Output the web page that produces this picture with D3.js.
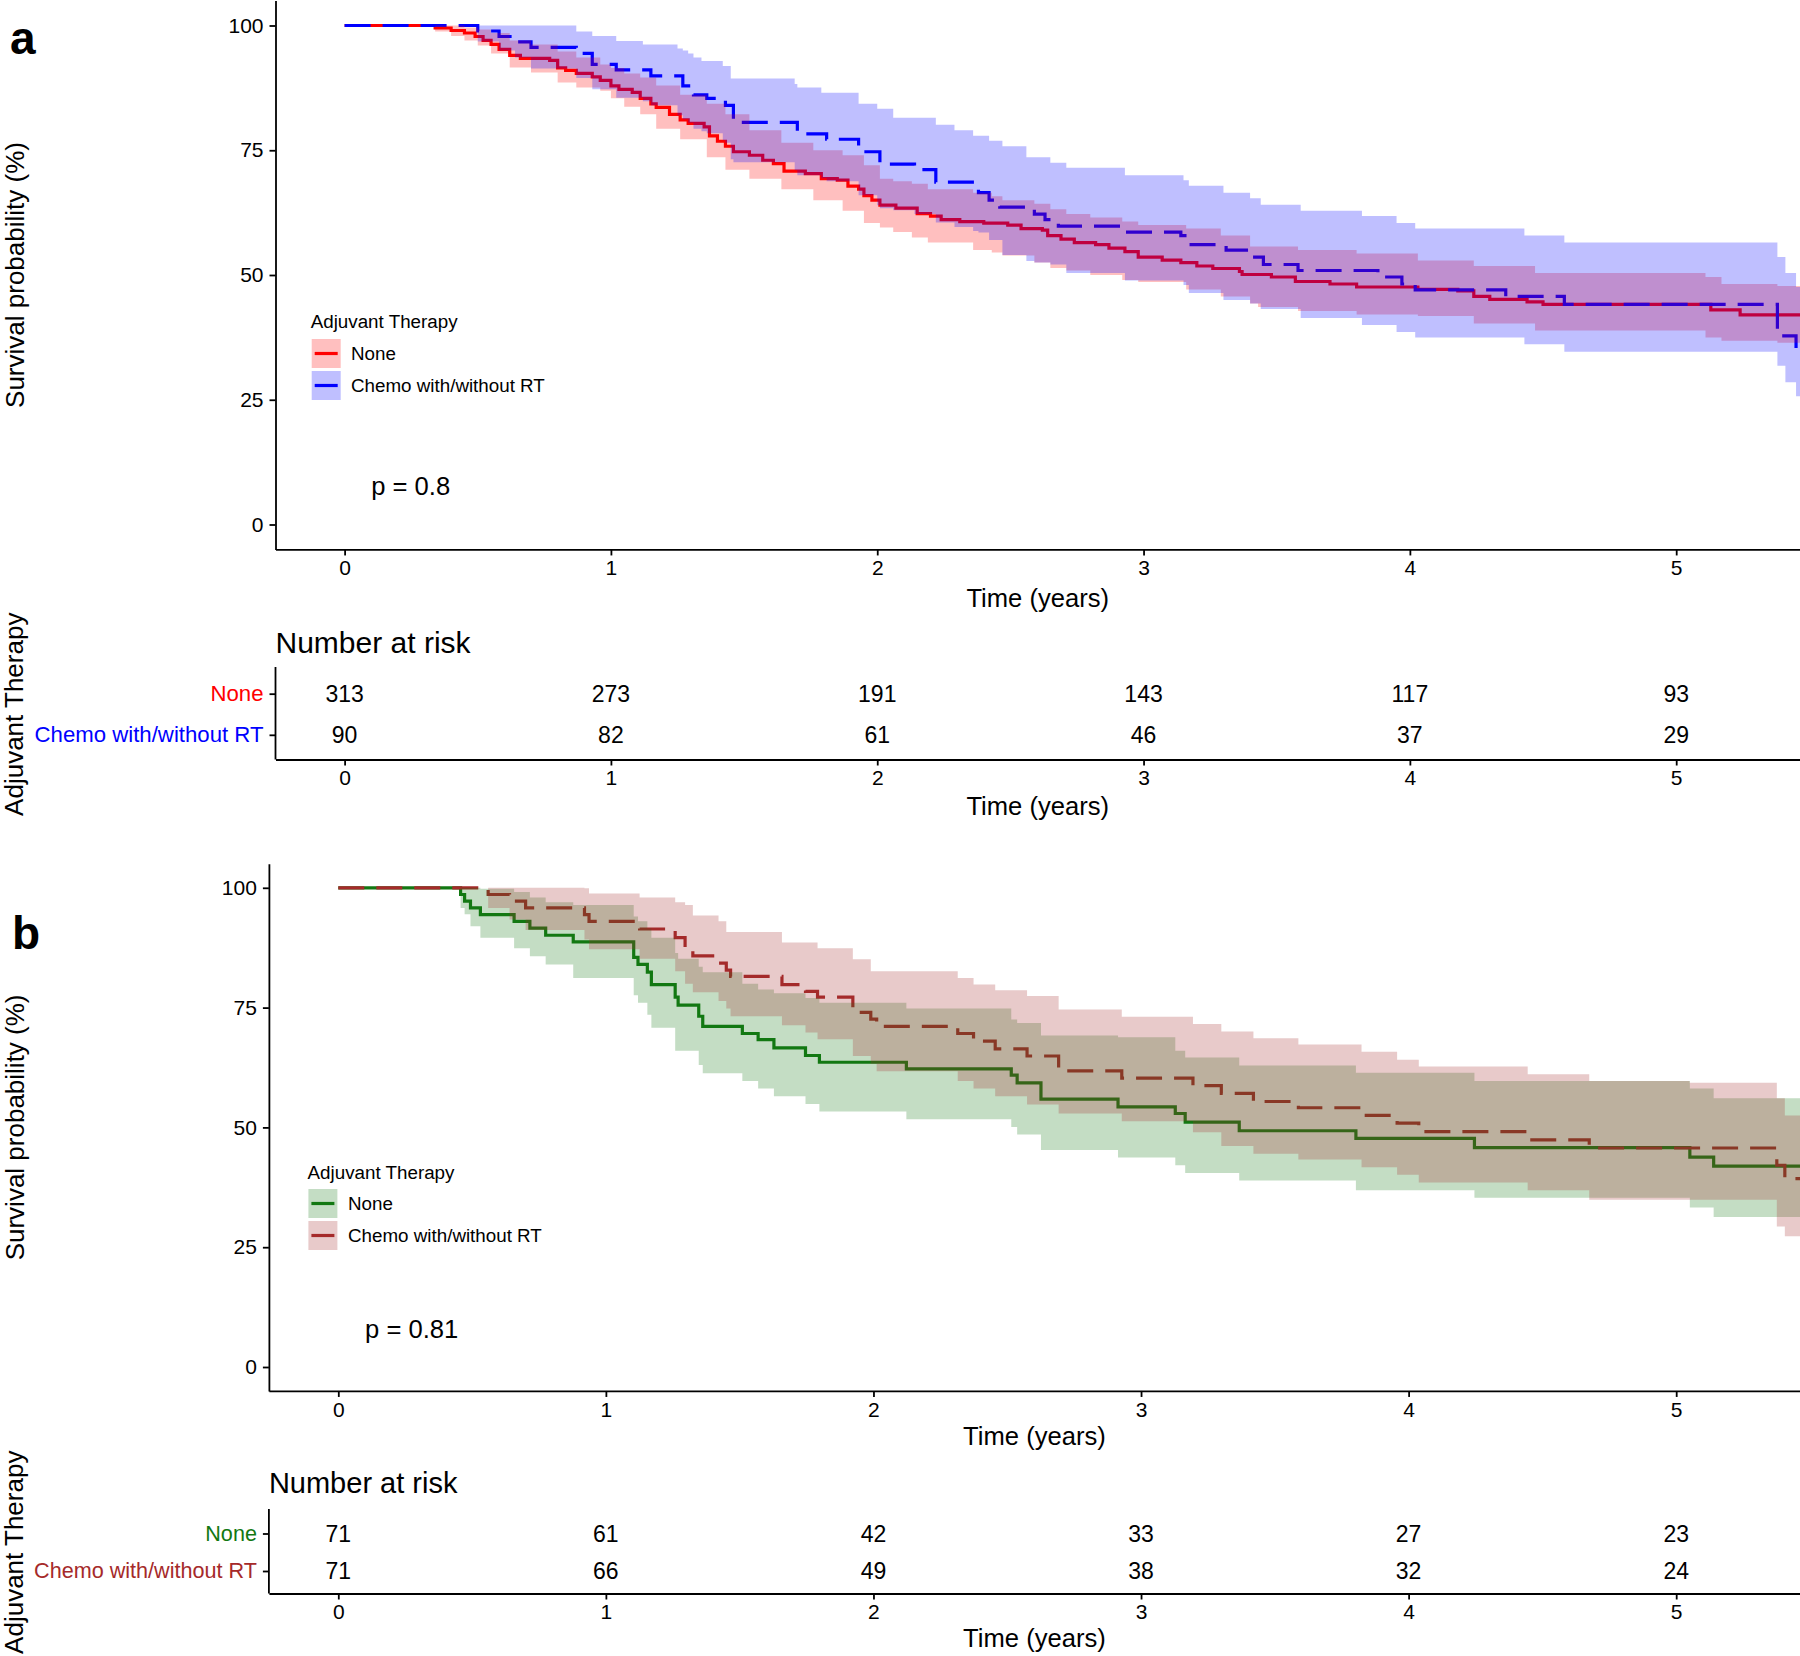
<!DOCTYPE html>
<html><head><meta charset="utf-8">
<script src="https://cdn.jsdelivr.net/npm/d3@7"></script>
<style>body{margin:0;background:#fff}svg{display:block}</style>
</head><body><script>
// ---------------- DATA ----------------
const timeTicks = [0, 1, 2, 3, 4, 5];
const survTicks = [0, 25, 50, 75, 100];
const groups = ["None", "Chemo with/without RT"];
const riskA_none  = [313, 273, 191, 143, 117, 93];
const riskA_chemo = [90, 82, 61, 46, 37, 29];
const riskB_none  = [71, 61, 42, 33, 27, 23];
const riskB_chemo = [71, 66, 49, 38, 32, 24];
const pvalA = "p = 0.8", pvalB = "p = 0.81";
const pvalCoord = [0.1, 6];

// Panel a, None: [time, survival %]
const aNoneSteps = [[0,100],[0.34,99.5],[0.40,99.0],[0.45,98.5],[0.49,97.8],[0.52,97.0],[0.55,96.2],[0.58,95.2],[0.62,94.0],[0.66,93.4],[0.77,93.0],[0.80,91.5],[0.83,91.0],[0.87,90.4],[0.93,89.7],[0.96,89.0],[1.00,87.9],[1.03,87.2],[1.08,86.6],[1.11,85.4],[1.15,84.3],[1.17,83.6],[1.22,82.2],[1.26,81.1],[1.29,80.4],[1.35,79.7],[1.37,77.9],[1.40,76.8],[1.43,75.8],[1.46,74.7],[1.52,74.0],[1.57,73.0],[1.61,72.3],[1.65,70.8],[1.73,70.3],[1.79,69.3],[1.85,69.0],[1.89,67.8],[1.93,67.2],[1.95,65.9],[1.98,65.0],[2.01,64.0],[2.07,63.4],[2.15,62.3],[2.20,61.8],[2.24,61.1],[2.31,60.7],[2.40,60.4],[2.49,60.0],[2.54,59.3],[2.62,59.0],[2.64,57.9],[2.69,57.2],[2.74,56.5],[2.82,56.1],[2.87,55.4],[2.93,54.7],[2.98,53.6],[3.07,53.0],[3.14,52.5],[3.20,51.8],[3.26,51.3],[3.36,50.7],[3.37,50.1],[3.48,49.6],[3.57,48.7],[3.70,48.2],[3.80,47.6],[4.03,47.1],[4.18,46.8],[4.24,45.7],[4.30,45.1],[4.44,44.6],[4.50,44.1],[5.13,43.0],[5.24,42.0]];
// [time, lower, upper]
const aNoneBand = [[0,100,100],[0.34,98.8,100],[0.40,97.9,100],[0.45,97.0,99.6],[0.50,96.0,99.2],[0.55,94.4,98.5],[0.62,91.6,97.0],[0.70,90.6,96.2],[0.80,88.6,94.8],[0.87,87.6,93.6],[0.96,86.9,92.2],[1.00,85.4,91.5],[1.05,83.7,90.4],[1.11,82.2,89.6],[1.17,79.3,88.0],[1.26,77.2,86.1],[1.36,73.6,84.3],[1.43,71.1,82.2],[1.52,69.3,79.0],[1.64,67.2,76.5],[1.76,65.0,75.0],[1.87,62.9,74.0],[1.95,60.4,72.0],[2.01,59.5,69.3],[2.06,58.6,68.8],[2.13,57.5,68.3],[2.19,56.5,67.2],[2.36,55.0,66.5],[2.43,54.5,65.8],[2.47,53.9,65.0],[2.59,52.5,64.3],[2.65,51.4,63.2],[2.71,50.9,62.2],[2.80,50.0,61.5],[2.92,49.0,60.7],[2.98,48.6,60.0],[3.16,47.1,59.3],[3.29,45.7,57.9],[3.40,44.3,55.7],[3.43,43.6,55.7],[3.58,42.8,55.0],[3.80,42.1,54.3],[4.03,41.8,52.9],[4.24,40.3,51.8],[4.47,38.9,50.4],[5.05,38.9,50.4],[5.11,37.5,49.6],[5.17,36.8,48.2],[5.38,36.4,47.8]];

// Panel a, Chemo
const aChemoSteps = [[0,100],[0.50,98.9],[0.58,97.8],[0.64,96.7],[0.70,95.6],[0.87,94.4],[0.93,92.2],[1.02,91.1],[1.15,89.9],[1.27,87.9],[1.31,86.1],[1.36,85.4],[1.43,84.0],[1.46,80.6],[1.70,78.3],[1.81,77.2],[1.93,74.7],[2.01,72.2],[2.14,71.1],[2.22,68.6],[2.38,66.5],[2.42,65.0],[2.46,63.6],[2.59,62.2],[2.63,61.1],[2.68,59.8],[2.92,58.6],[3.14,57.9],[3.17,56.1],[3.31,55.0],[3.40,53.6],[3.45,52.1],[3.58,50.9],[3.88,49.6],[3.97,48.2],[4.02,47.0],[4.36,45.7],[4.58,44.1],[5.38,37.8],[5.45,34.6]];
const aChemoBand = [[0,100,100],[0.50,96.8,100],[0.58,95.0,100],[0.64,93.6,100],[0.70,91.4,100],[0.87,89.5,98.8],[0.93,87.2,97.9],[1.02,85.5,96.9],[1.12,84.8,96.2],[1.15,84.0,96.2],[1.25,82.0,95.4],[1.27,81.2,95.0],[1.29,80.5,94.4],[1.31,79.3,93.6],[1.34,78.8,92.9],[1.36,78.4,92.9],[1.42,77.0,91.9],[1.43,76.5,91.9],[1.45,73.2,89.4],[1.46,72.6,89.4],[1.69,71.0,88.3],[1.70,70.0,87.6],[1.79,69.4,86.5],[1.81,68.8,86.5],[1.93,66.0,84.3],[2.00,64.0,83.3],[2.01,63.4,83.3],[2.06,63.0,81.5],[2.14,62.2,81.5],[2.22,60.5,80.1],[2.29,59.6,79.0],[2.36,58.8,77.9],[2.38,58.5,77.9],[2.42,57.0,76.9],[2.47,54.0,75.8],[2.56,52.8,73.6],[2.59,52.5,73.6],[2.65,52.1,72.5],[2.71,50.4,71.5],[2.93,48.9,70.0],[3.15,48.0,69.0],[3.17,46.4,67.9],[3.30,45.0,66.5],[3.40,44.3,65.4],[3.44,43.2,64.1],[3.59,41.4,62.9],[3.82,40.0,61.8],[3.95,38.6,60.4],[4.02,37.5,59.3],[4.43,36.1,57.9],[4.58,34.6,56.5],[5.38,31.8,53.6],[5.41,28.5,50.4],[5.45,25.7,47.6]];

// Panel b, None
const bNoneSteps = [[0,100],[0.457,98.6],[0.472,97.2],[0.494,95.8],[0.531,94.4],[0.657,93.0],[0.716,91.6],[0.775,90.1],[0.878,88.7],[1.104,85.5],[1.12,84.0],[1.155,82.4],[1.17,79.8],[1.259,77.2],[1.27,75.5],[1.347,73.2],[1.362,71.1],[1.51,69.6],[1.569,68.3],[1.628,66.6],[1.746,65.0],[1.798,63.6],[2.123,62.2],[2.515,60.9],[2.537,59.3],[2.626,55.9],[2.914,54.3],[3.128,52.9],[3.165,51.1],[3.367,49.3],[3.803,47.7],[4.246,45.8],[5.051,43.8],[5.14,41.9]];
const bNoneBand = [[0,100,100],[0.457,95.8,100],[0.472,94.5,100],[0.494,92.0,100],[0.531,89.6,99.8],[0.657,87.4,99.1],[0.716,85.7,98.0],[0.775,84.0,97.0],[0.878,81.2,96.4],[1.104,77.6,94.0],[1.12,76.0,93.0],[1.155,73.5,91.5],[1.17,70.8,89.6],[1.259,66.0,86.4],[1.27,66.0,85.2],[1.347,63.0,83.5],[1.362,61.3,82.4],[1.51,59.7,80.0],[1.569,58.1,78.8],[1.628,56.5,78.0],[1.746,54.9,77.0],[1.798,53.3,76.0],[2.123,51.7,74.8],[2.515,50.1,72.5],[2.537,48.5,71.8],[2.626,45.3,69.2],[2.914,43.7,68.8],[3.128,42.1,66.0],[3.165,40.5,64.6],[3.367,38.9,62.9],[3.803,36.9,61.4],[4.246,35.3,59.7],[5.051,33.3,58.1],[5.14,31.3,56.1]];

// Panel b, Chemo
const bChemoSteps = [[0,100],[0.56,98.6],[0.64,97.2],[0.70,95.8],[0.92,94.4],[0.937,93.0],[1.126,91.4],[1.259,89.6],[1.296,87.2],[1.325,85.8],[1.421,84.3],[1.45,82.8],[1.466,81.5],[1.658,79.8],[1.746,78.4],[1.791,77.2],[1.923,74.0],[1.99,72.6],[2.012,71.1],[2.315,69.6],[2.374,68.0],[2.455,66.4],[2.574,64.9],[2.692,61.8],[2.928,60.3],[3.194,58.7],[3.30,57.1],[3.42,55.4],[3.588,54.1],[3.824,52.5],[3.957,50.9],[4.038,49.1],[4.445,47.4],[4.675,45.7],[5.376,42.1],[5.406,39.3]];
const bChemoBand = [[0,100,100],[0.56,95.8,100],[0.64,93.4,100],[0.70,91.2,100],[0.92,89.2,99.9],[0.937,87.2,98.8],[1.126,85.2,98.0],[1.259,82.6,97.0],[1.296,80.0,96.4],[1.325,78.2,94.2],[1.421,76.4,93.0],[1.45,74.8,90.8],[1.466,73.2,90.8],[1.658,71.3,88.6],[1.746,69.8,88.6],[1.791,68.4,87.4],[1.923,64.9,85.1],[1.99,63.3,82.6],[2.012,61.7,82.6],[2.315,59.7,81.2],[2.374,58.1,79.8],[2.455,56.5,78.6],[2.574,54.8,77.4],[2.692,52.9,74.6],[2.928,51.3,73.1],[3.194,49.0,71.6],[3.30,46.1,70.0],[3.42,44.5,68.6],[3.588,43.3,67.3],[3.824,41.7,65.8],[3.957,40.1,64.1],[4.038,38.5,62.7],[4.445,36.9,61.1],[4.675,34.9,59.7],[5.05,34.9,59.3],[5.376,29.3,56.1],[5.406,27.3,52.5]];

// ---------------- DRAWING ----------------
const FONT = '"Liberation Sans", Arial, Helvetica, sans-serif';
const W = 1800, H = 1656;
const svg = d3.select("body").append("svg").attr("width", W).attr("height", H)
  .style("background", "#fff").attr("font-family", FONT);

const panels = [
  { letter: "a", letterX: 10, letterY: 54, axisX: 275.5, x0: 344.6, x5: 1676.2, y0: 524.5, y100: 25.5,
    titleY: 606.7, pval: pvalA,
    series: [
      { name: groups[0], steps: aNoneSteps, band: aNoneBand, color: "#FF0000", dash: null },
      { name: groups[1], steps: aChemoSteps, band: aChemoBand, color: "#0000FF", dash: "26,12" }
    ],
    legend: { x: 310.7, titleY: 328, keyX: 311.7, keyTop: 339, labelX: 351 },
    riskTitleY: 653.3, riskTitleSize: 30, riskLabelSize: 22.2,
    riskTop: 669, riskBot: 759.5, riskXTitleY: 815,
    risk: [riskA_none, riskA_chemo] },
  { letter: "b", letterX: 12, letterY: 949, axisX: 268.9, x0: 338.3, x5: 1676.2, y0: 1367, y100: 887.8,
    titleY: 1445, pval: pvalB,
    series: [
      { name: groups[0], steps: bNoneSteps, band: bNoneBand, color: "#127812", dash: null },
      { name: groups[1], steps: bChemoSteps, band: bChemoBand, color: "#A52A2A", dash: "26,12" }
    ],
    legend: { x: 307.6, titleY: 1178.7, keyX: 308.4, keyTop: 1189, labelX: 348 },
    riskTitleY: 1492.7, riskTitleSize: 29, riskLabelSize: 21.6,
    riskTop: 1511, riskBot: 1593.5, riskXTitleY: 1646.7,
    risk: [riskB_none, riskB_chemo] }
];

function styleAxis(sel, size) {
  sel.attr("font-family", FONT);
  sel.selectAll(".domain, .tick line").attr("stroke", "#000").attr("stroke-width", 1.8);
  sel.selectAll(".tick text").attr("font-size", size).attr("fill", "#000");
}
const fmtInt = d3.format("d");

panels.forEach((P, pi) => {
  const g = svg.append("g");
  const xs0 = d3.scaleLinear().domain([0, 5]).range([P.x0, P.x5]);
  const x = d3.scaleLinear().domain([xs0.invert(P.axisX), xs0.invert(W)]).range([P.axisX, W]);
  const ys0 = d3.scaleLinear().domain([0, 100]).range([P.y0, P.y100]);
  const y = d3.scaleLinear().domain([-5, 105]).range([ys0(-5), ys0(105)]);
  const tEnd = x.domain()[1] + 0.1;

  // clip
  const cid = "clip" + pi;
  svg.append("defs").append("clipPath").attr("id", cid).append("rect")
    .attr("x", P.axisX).attr("y", y(105)).attr("width", W - P.axisX).attr("height", y(-5) - y(105));
  const plot = g.append("g").attr("clip-path", `url(#${cid})`);

  const line = d3.line().curve(d3.curveStepAfter).x(d => x(d[0])).y(d => y(d[1]));
  const area = d3.area().curve(d3.curveStepAfter).x(d => x(d[0])).y0(d => y(d[1])).y1(d => y(d[2]));

  // lines first
  P.series.forEach(s => {
    const pts = s.steps.concat([[tEnd, s.steps[s.steps.length - 1][1]]]);
    plot.append("path").attr("d", line(pts)).attr("fill", "none")
      .attr("stroke", s.color).attr("stroke-width", 3.2)
      .attr("stroke-dasharray", s.dash);
  });
  // ribbons on top
  P.series.forEach(s => {
    const last = s.band[s.band.length - 1];
    const pts = s.band.concat([[tEnd, last[1], last[2]]]);
    plot.append("path").attr("d", area(pts)).attr("fill", s.color).attr("fill-opacity", 0.25);
  });

  // axes
  const yAx = g.append("g").attr("transform", `translate(${P.axisX},0)`)
    .call(d3.axisLeft(y).tickValues(survTicks).tickFormat(fmtInt).tickSize(6).tickPadding(6).tickSizeOuter(0));
  styleAxis(yAx, 21);
  const xAx = g.append("g").attr("transform", `translate(0,${y(-5)})`)
    .call(d3.axisBottom(x).tickValues(timeTicks).tickFormat(fmtInt).tickSize(6).tickPadding(5).tickSizeOuter(0));
  styleAxis(xAx, 21);

  // titles
  g.append("text").attr("x", (P.axisX + W) / 2).attr("y", P.titleY).attr("text-anchor", "middle")
    .attr("font-size", 25.6).text("Time (years)");
  g.append("text").attr("transform", `translate(24,${(y(105) + y(-5)) / 2}) rotate(-90)`)
    .attr("text-anchor", "middle").attr("font-size", 26).text("Survival probability (%)");
  g.append("text").attr("x", P.letterX).attr("y", P.letterY).attr("font-size", 46)
    .attr("font-weight", "bold").text(P.letter);
  g.append("text").attr("x", x(pvalCoord[0])).attr("y", y(pvalCoord[1])).attr("font-size", 25.6).text(P.pval);

  // legend
  const L = P.legend;
  g.append("text").attr("x", L.x).attr("y", L.titleY).attr("font-size", 18.8).text("Adjuvant Therapy");
  P.series.forEach((s, i) => {
    const top = L.keyTop + i * 32;
    g.append("rect").attr("x", L.keyX).attr("y", top).attr("width", 29).attr("height", 29)
      .attr("fill", s.color).attr("fill-opacity", 0.25);
    g.append("line").attr("x1", L.keyX + 3).attr("x2", L.keyX + 26).attr("y1", top + 14.5).attr("y2", top + 14.5)
      .attr("stroke", s.color).attr("stroke-width", 3.2).attr("stroke-dasharray", s.dash);
    g.append("text").attr("x", L.labelX).attr("y", top + 14.5).attr("dominant-baseline", "central")
      .attr("font-size", 18.8).text(s.name);
  });

  // risk table
  g.append("text").attr("x", P.axisX).attr("y", P.riskTitleY).attr("font-size", P.riskTitleSize).text("Number at risk");
  const ry = d3.scalePoint().domain(groups).range([P.riskTop, P.riskBot]).padding(0.6);
  const ryAx = g.append("g").attr("transform", `translate(${P.axisX},0)`)
    .call(d3.axisLeft(ry).tickSize(6).tickPadding(6).tickSizeOuter(0));
  ryAx.select(".domain").attr("d", `M0,${P.riskTop - 2}V${P.riskBot}`);
  styleAxis(ryAx, P.riskLabelSize);
  ryAx.selectAll(".tick text").attr("fill", (d, i) => P.series[i].color);
  const rxAx = g.append("g").attr("transform", `translate(0,${P.riskBot})`)
    .call(d3.axisBottom(x).tickValues(timeTicks).tickFormat(fmtInt).tickSize(6).tickPadding(5).tickSizeOuter(0));
  styleAxis(rxAx, 21);
  P.risk.forEach((row, i) => {
    row.forEach((v, j) => {
      g.append("text").attr("x", x(timeTicks[j])).attr("y", ry(groups[i]))
        .attr("text-anchor", "middle").attr("dominant-baseline", "central")
        .attr("font-size", 23).text(v);
    });
  });
  g.append("text").attr("x", (P.axisX + W) / 2).attr("y", P.riskXTitleY).attr("text-anchor", "middle")
    .attr("font-size", 25.6).text("Time (years)");
  g.append("text").attr("transform", `translate(23,${(P.riskTop + P.riskBot) / 2}) rotate(-90)`)
    .attr("text-anchor", "middle").attr("font-size", 26).text("Adjuvant Therapy");
});
</script></body></html>
